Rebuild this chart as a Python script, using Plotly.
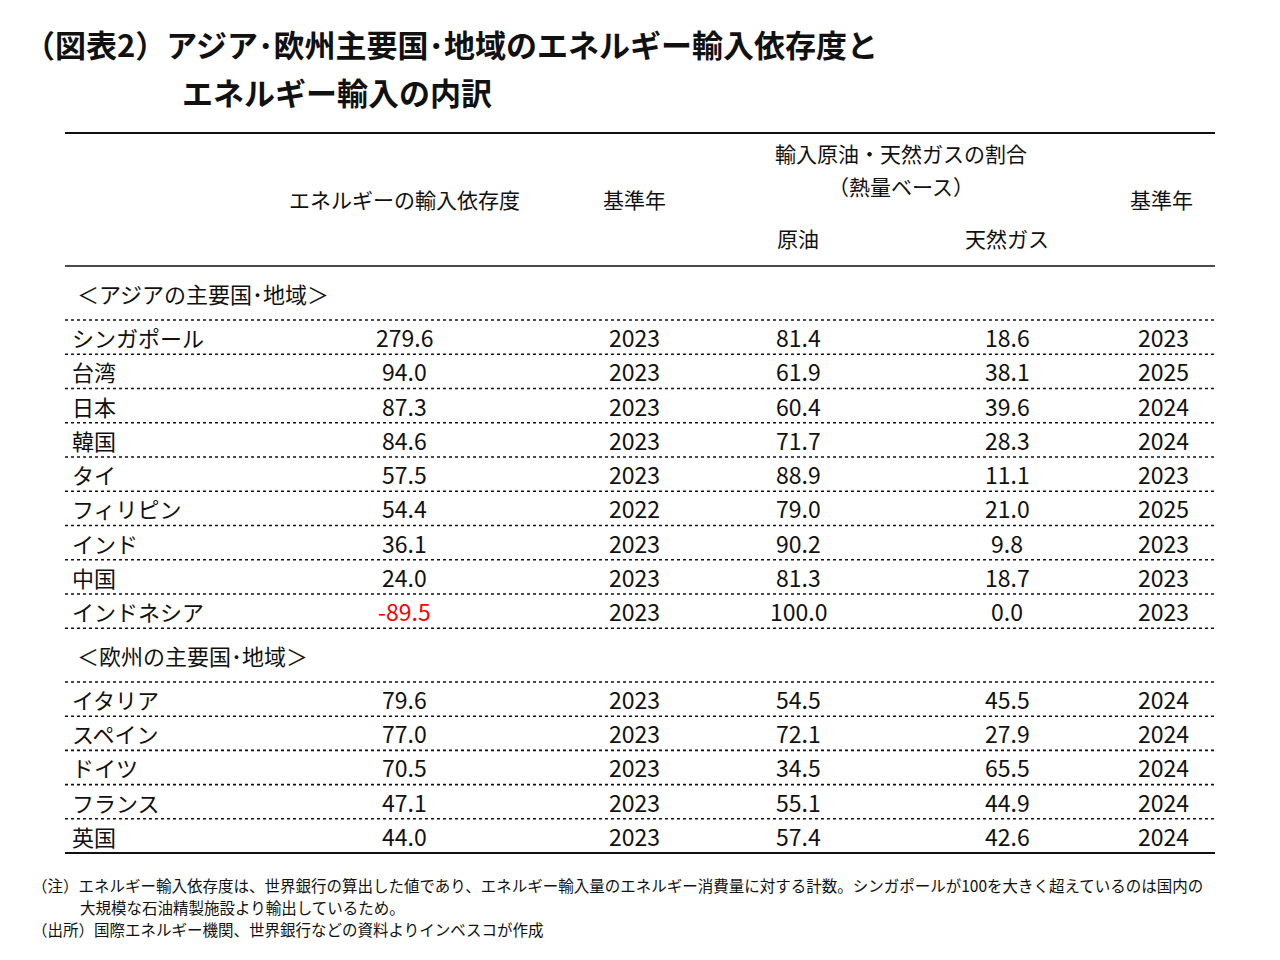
import plotly.graph_objects as go

asia_names = ["シンガポール", "台湾", "日本", "韓国", "タイ", "フィリピン", "インド", "中国", "インドネシア"]
asia_dep = [279.6, 94.0, 87.3, 84.6, 57.5, 54.4, 36.1, 24.0, -89.5]
asia_year1 = [2023, 2023, 2023, 2023, 2023, 2022, 2023, 2023, 2023]
asia_oil = [81.4, 61.9, 60.4, 71.7, 88.9, 79.0, 90.2, 81.3, 100.0]
asia_gas = [18.6, 38.1, 39.6, 28.3, 11.1, 21.0, 9.8, 18.7, 0.0]
asia_year2 = [2023, 2025, 2024, 2024, 2023, 2025, 2023, 2023, 2023]

eu_names = ["イタリア", "スペイン", "ドイツ", "フランス", "英国"]
eu_dep = [79.6, 77.0, 70.5, 47.1, 44.0]
eu_year1 = [2023, 2023, 2023, 2023, 2023]
eu_oil = [54.5, 72.1, 34.5, 55.1, 57.4]
eu_gas = [45.5, 27.9, 65.5, 44.9, 42.6]
eu_year2 = [2024, 2024, 2024, 2024, 2024]

FONT = "Noto Sans CJK JP, Meiryo, sans-serif"
fig = go.Figure()
fig.add_trace(go.Scatter(x=[8, 1288], y=[8, 968], mode="markers", marker=dict(opacity=0), hoverinfo="skip", showlegend=False))
ann = []
shapes = []

def txt(x, y, t, size=23, color="#111", xanchor="center", bold=False):
    if bold:
        t = "<b>" + t + "</b>"
    ann.append(dict(x=x, y=y, xref="x", yref="y", text=t, showarrow=False, xanchor=xanchor, yanchor="middle",
                    font=dict(family=FONT, size=size, color=color)))

def hline(y, dash="dot", w=1.6):
    shapes.append(dict(type="line", xref="x", yref="y", x0=65, x1=1215, y0=y, y1=y,
                       line=dict(color="#111", width=w, dash=dash)))

txt(22, 43, "（図表2）アジア･欧州主要国･地域のエネルギー輸入依存度と", size=31, xanchor="left", bold=True)
txt(180, 91, "エネルギー輸入の内訳", size=31, xanchor="left", bold=True)

hline(133, "solid", 2)
txt(404, 199, "エネルギーの輸入依存度", size=21)
txt(634, 199, "基準年", size=21)
txt(901, 153, "輸入原油・天然ガスの割合", size=21)
txt(901, 186, "（熱量ベース）", size=21)
txt(798, 238, "原油", size=21)
txt(1007, 238, "天然ガス", size=21)
txt(1161, 199, "基準年", size=21)
hline(266, "solid", 1.5)

cols = [404, 634, 798, 1007, 1163]
label_y_text = {293: "アジアの主要国･地域", 655: "欧州の主要国･地域"}

def block(label_y, first_line, names, dep, y1, oil, gas, y2, step):
    txt(75, label_y, "＜" + label_y_text[label_y] + "＞", size=22, xanchor="left")
    for i, n in enumerate(names):
        yc = first_line + step * i + 17
        txt(70, yc, n, size=22, xanchor="left")
        txt(cols[0], yc, f"{dep[i]:.1f}", color="#ff0000" if dep[i] < 0 else "#111")
        txt(cols[1], yc, str(y1[i]))
        txt(cols[2], yc, f"{oil[i]:.1f}")
        txt(cols[3], yc, f"{gas[i]:.1f}")
        txt(cols[4], yc, str(y2[i]))
    for i in range(len(names) + 1):
        hline(first_line + step * i)

block(293, 320, asia_names, asia_dep, asia_year1, asia_oil, asia_gas, asia_year2, 34.25)
block(655, 682, eu_names, eu_dep, eu_year1, eu_oil, eu_gas, eu_year2, 34.2)
shapes[-1]["line"].update(dash="solid", width=2)

txt(30, 885, "（注）エネルギー輸入依存度は、世界銀行の算出した値であり、エネルギー輸入量のエネルギー消費量に対する計数。シンガポールが100を大きく超えているのは国内の", size=15.5, xanchor="left")
txt(78, 907, "大規模な石油精製施設より輸出しているため。", size=15.5, xanchor="left")
txt(30, 929, "（出所）国際エネルギー機関、世界銀行などの資料よりインベスコが作成", size=15.5, xanchor="left")

fig.update_layout(width=1280, height=960, margin=dict(l=0, r=0, t=0, b=0),
                  plot_bgcolor="white", paper_bgcolor="white", annotations=ann, shapes=shapes,
                  xaxis=dict(range=[8, 1288], visible=False, fixedrange=True),
                  yaxis=dict(range=[968, 8], visible=False, fixedrange=True))
fig.write_html("out.html")
